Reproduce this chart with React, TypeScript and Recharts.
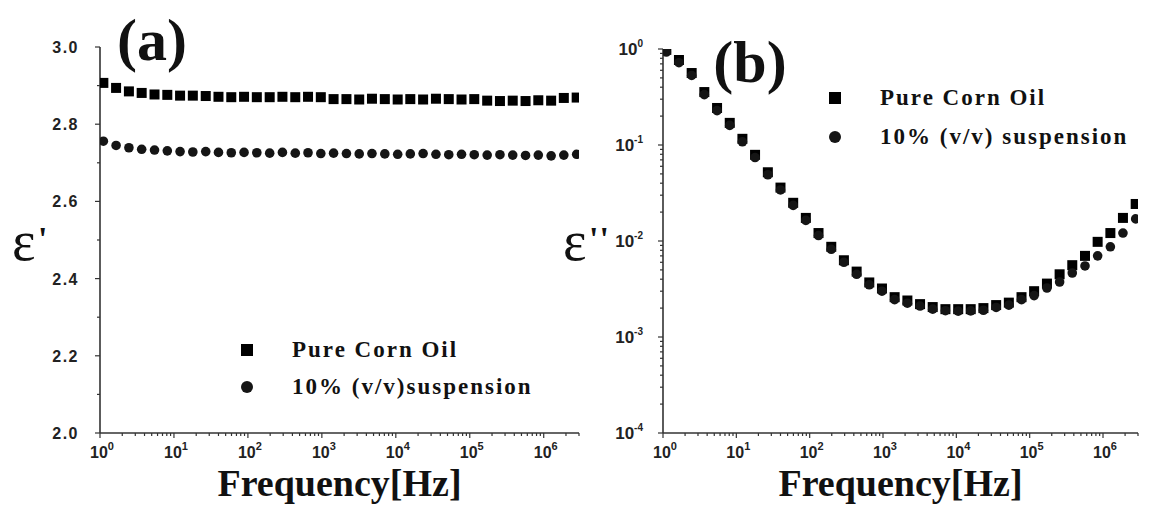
import { ScatterChart, Scatter, XAxis, YAxis, Legend, Label } from 'recharts';

const SERIF = '"Liberation Serif", "Times New Roman", serif';
const SANS = '"Liberation Sans", Arial, sans-serif';

// frequency sweep (Hz), same points for both panels
const freqHz = [
  1.11, 1.65, 2.46, 3.66, 5.46, 8.13, 12.1, 18.0, 26.9, 40.0,
  59.6, 88.7, 132, 197, 293, 437, 650, 968, 1440, 2150,
  3200, 4760, 7100, 10600, 15700, 23400, 34900, 52000, 77400, 115000,
  172000, 256000, 381000, 568000, 845000, 1260000, 1870000, 2790000,
];

// (a) real permittivity
const epsRealOil = [
  2.907, 2.894, 2.885, 2.881, 2.877, 2.876, 2.874, 2.874, 2.873, 2.871,
  2.870, 2.871, 2.870, 2.870, 2.871, 2.870, 2.871, 2.870, 2.865, 2.865,
  2.864, 2.866, 2.865, 2.864, 2.865, 2.864, 2.866, 2.865, 2.864, 2.865,
  2.861, 2.860, 2.861, 2.860, 2.862, 2.861, 2.868, 2.869,
];
const epsRealSusp = [
  2.756, 2.745, 2.739, 2.735, 2.733, 2.731, 2.729, 2.728, 2.729, 2.727,
  2.726, 2.727, 2.726, 2.725, 2.727, 2.725, 2.726, 2.724, 2.725, 2.724,
  2.723, 2.724, 2.723, 2.722, 2.723, 2.724, 2.722, 2.721, 2.722, 2.721,
  2.720, 2.721, 2.720, 2.719, 2.720, 2.718, 2.720, 2.722,
];

// (b) dielectric loss
const epsLossOil = [
  0.98, 0.768, 0.562, 0.356, 0.243, 0.170, 0.116, 0.079, 0.052, 0.036,
  0.025, 0.0174, 0.0121, 0.0087, 0.0063, 0.0048, 0.0037, 0.0032, 0.0026, 0.0024,
  0.0022, 0.00205, 0.00195, 0.00195, 0.00195, 0.0020, 0.00215, 0.00228, 0.0026, 0.0030,
  0.0036, 0.0045, 0.0056, 0.0070, 0.0098, 0.0121, 0.0174, 0.0243,
];
const epsLossSusp = [
  0.93, 0.72, 0.53, 0.335, 0.228, 0.160, 0.108, 0.074, 0.049, 0.034,
  0.0235, 0.0164, 0.0114, 0.0082, 0.0060, 0.0045, 0.0035, 0.0030, 0.00245, 0.00225,
  0.0021, 0.00195, 0.00188, 0.00186, 0.00187, 0.0019, 0.00203, 0.00215, 0.00245, 0.0027,
  0.00324, 0.00374, 0.00464, 0.0055, 0.0070, 0.0087, 0.0121, 0.017,
];

const realTicks = [2.0, 2.1, 2.2, 2.3, 2.4, 2.5, 2.6, 2.7, 2.8, 2.9, 3.0];
const FREQ_MAX = 3e6;

// log axes: labelled decades plus 2..9 minor marks
function logTicks(fromExp: number, toExp: number, max: number) {
  const out: number[] = [];
  for (let e = fromExp; e <= toExp; e++) {
    for (let m = 1; m <= 9; m++) {
      const v = m * Math.pow(10, e);
      if (v <= max * 1.0001) out.push(v);
    }
  }
  return out;
}
const freqTicks = logTicks(0, 6, FREQ_MAX);
const lossTicks = logTicks(-4, 0, 1);

const toPoints = (ys: number[]) => freqHz.map((f, i) => ({ f, v: ys[i] }));

const isDecade = (v: number) => Math.abs(Math.log10(v) - Math.round(Math.log10(v))) < 1e-6;

const AXIS = { stroke: '#333', strokeWidth: 1.6 };
const tickText = { fontFamily: SANS, fontWeight: 700, fill: '#222' } as const;

function FreqTick({ x, y, payload }: any) {
  const v = payload.value as number;
  const major = isDecade(v);
  return (
    <g>
      <line x1={x} x2={x} y1={y} y2={y + (major ? 5 : 3)} stroke="#333" strokeWidth={1.2} />
      {major && (
        <text x={x + 2} y={y + 25} textAnchor="middle" fontSize={16} {...tickText}>
          10<tspan dy={-8} fontSize={11}>{Math.round(Math.log10(v))}</tspan>
        </text>
      )}
    </g>
  );
}

function RealTick({ x, y, payload }: any) {
  const v = payload.value as number;
  const major = Math.round(v * 10) % 2 === 0;
  return (
    <g>
      <line x1={x} x2={x - (major ? 5 : 3)} y1={y} y2={y} stroke="#333" strokeWidth={1.2} />
      {major && (
        <text x={x - 21} y={y + 6} textAnchor="end" fontSize={16} letterSpacing={1.5} {...tickText}>
          {v.toFixed(1)}
        </text>
      )}
    </g>
  );
}

function LossTick({ x, y, payload }: any) {
  const v = payload.value as number;
  const major = isDecade(v);
  return (
    <g>
      <line x1={x} x2={x - (major ? 5 : 3)} y1={y} y2={y} stroke="#333" strokeWidth={1.2} />
      {major && (
        <text x={x - 20} y={y + 6} textAnchor="end" fontSize={17} {...tickText}>
          10<tspan dy={-8} fontSize={10}>{Math.round(Math.log10(v))}</tspan>
        </text>
      )}
    </g>
  );
}

const squareDot = (p: any) => <rect x={p.cx - 5} y={p.cy - 5} width={10} height={10} fill="#000" />;
const roundDot = (p: any) => <circle cx={p.cx} cy={p.cy} r={4.8} fill="#151515" />;

// square key first, then the round one
function KeyBox({ payload, rowHeight }: any) {
  const rows = [...(payload ?? [])].sort((a: any, b: any) =>
    (a.type === 'square' ? 0 : 1) - (b.type === 'square' ? 0 : 1));
  return (
    <div style={{ fontFamily: SERIF, fontWeight: 700, fontSize: 23, letterSpacing: 2, color: '#111', whiteSpace: 'nowrap' }}>
      {rows.map((e: any) => (
        <div key={e.value} style={{ display: 'flex', alignItems: 'center', height: rowHeight }}>
          <svg width={14} height={14} style={{ marginRight: 38, flex: 'none' }}>
            {e.type === 'square'
              ? <rect x={1} y={1} width={12} height={12} fill="#000" />
              : <circle cx={7} cy={7} r={6} fill="#151515" />}
          </svg>
          <span>{e.value}</span>
        </div>
      ))}
    </div>
  );
}

const freqTitle = (props: any) => {
  const vb = props.viewBox;
  return (
    <text x={vb.x + vb.width / 2} y={vb.y + 63} textAnchor="middle"
      fontFamily={SERIF} fontWeight={700} fontSize={38} fill="#111">
      Frequency[Hz]
    </text>
  );
};

// ε with its prime marks set as a separate run above right
const epsTitle = (primes: string, dx: number) => (props: any) => {
  const vb = props.viewBox;
  const left = vb.x + vb.width - dx;
  return (
    <g fill="#111" fontFamily={SERIF}>
      <text x={left} y={260} fontSize={56}>ε</text>
      <text x={left + 26} y={250} fontSize={34} fontWeight={700} letterSpacing={1}>{primes}</text>
    </g>
  );
};

export default function App() {
  return (
    <div style={{ position: 'absolute', left: 0, top: 0, width: 1155, height: 505, background: '#fff' }}>
      {/* (a) ε' vs frequency */}
      <div style={{ position: 'absolute', left: 0, top: 0 }}>
        <ScatterChart width={590} height={505} margin={{ top: 47, right: 11, bottom: 42, left: 40 }}>
          <XAxis dataKey="f" type="number" scale="log" domain={[1, FREQ_MAX]} allowDataOverflow
            ticks={freqTicks} interval={0} tick={<FreqTick />} tickLine={false} tickSize={0} tickMargin={0}
            axisLine={AXIS} height={30}>
            <Label content={freqTitle} />
          </XAxis>
          <YAxis dataKey="v" type="number" domain={[2, 3]} allowDataOverflow
            ticks={realTicks} interval={0} tick={<RealTick />} tickLine={false} tickSize={0} tickMargin={0}
            axisLine={AXIS} width={60}>
            <Label content={epsTitle("'", 88)} />
          </YAxis>
          <Scatter name="Pure Corn Oil" data={toPoints(epsRealOil)} legendType="square" shape={squareDot} isAnimationActive={false} />
          <Scatter name="10% (v/v)suspension" data={toPoints(epsRealSusp)} legendType="circle" shape={roundDot} isAnimationActive={false} />
          <Legend layout="horizontal" verticalAlign="middle" align="center"
            wrapperStyle={{ left: 240, top: 331, width: 'auto' }}
            content={(p: any) => <KeyBox payload={p.payload} rowHeight={37} />} />
          <text x={152} y={60} textAnchor="middle" fontFamily={SERIF} fontWeight={700} fontSize={60} fill="#111">(a)</text>
        </ScatterChart>
      </div>

      {/* (b) ε'' vs frequency */}
      <div style={{ position: 'absolute', left: 540, top: 0 }}>
        <ScatterChart width={615} height={505} margin={{ top: 49, right: 17, bottom: 42, left: 63 }}>
          <XAxis dataKey="f" type="number" scale="log" domain={[1, FREQ_MAX]} allowDataOverflow
            ticks={freqTicks} interval={0} tick={<FreqTick />} tickLine={false} tickSize={0} tickMargin={0}
            axisLine={AXIS} height={30}>
            <Label content={freqTitle} />
          </XAxis>
          <YAxis dataKey="v" type="number" scale="log" domain={[1e-4, 1]} allowDataOverflow
            ticks={lossTicks} interval={0} tick={<LossTick />} tickLine={false} tickSize={0} tickMargin={0}
            axisLine={AXIS} width={60}>
            <Label content={epsTitle("''", 100)} />
          </YAxis>
          <Scatter name="Pure Corn Oil" data={toPoints(epsLossOil)} legendType="square" shape={squareDot} isAnimationActive={false} />
          <Scatter name="10% (v/v) suspension" data={toPoints(epsLossSusp)} legendType="circle" shape={roundDot} isAnimationActive={false} />
          <Legend layout="horizontal" verticalAlign="middle" align="center"
            wrapperStyle={{ left: 288, top: 78, width: 'auto' }}
            content={(p: any) => <KeyBox payload={p.payload} rowHeight={39} />} />
          <text x={210} y={82} textAnchor="middle" fontFamily={SERIF} fontWeight={700} fontSize={60} fill="#111">(b)</text>
        </ScatterChart>
      </div>
    </div>
  );
}
